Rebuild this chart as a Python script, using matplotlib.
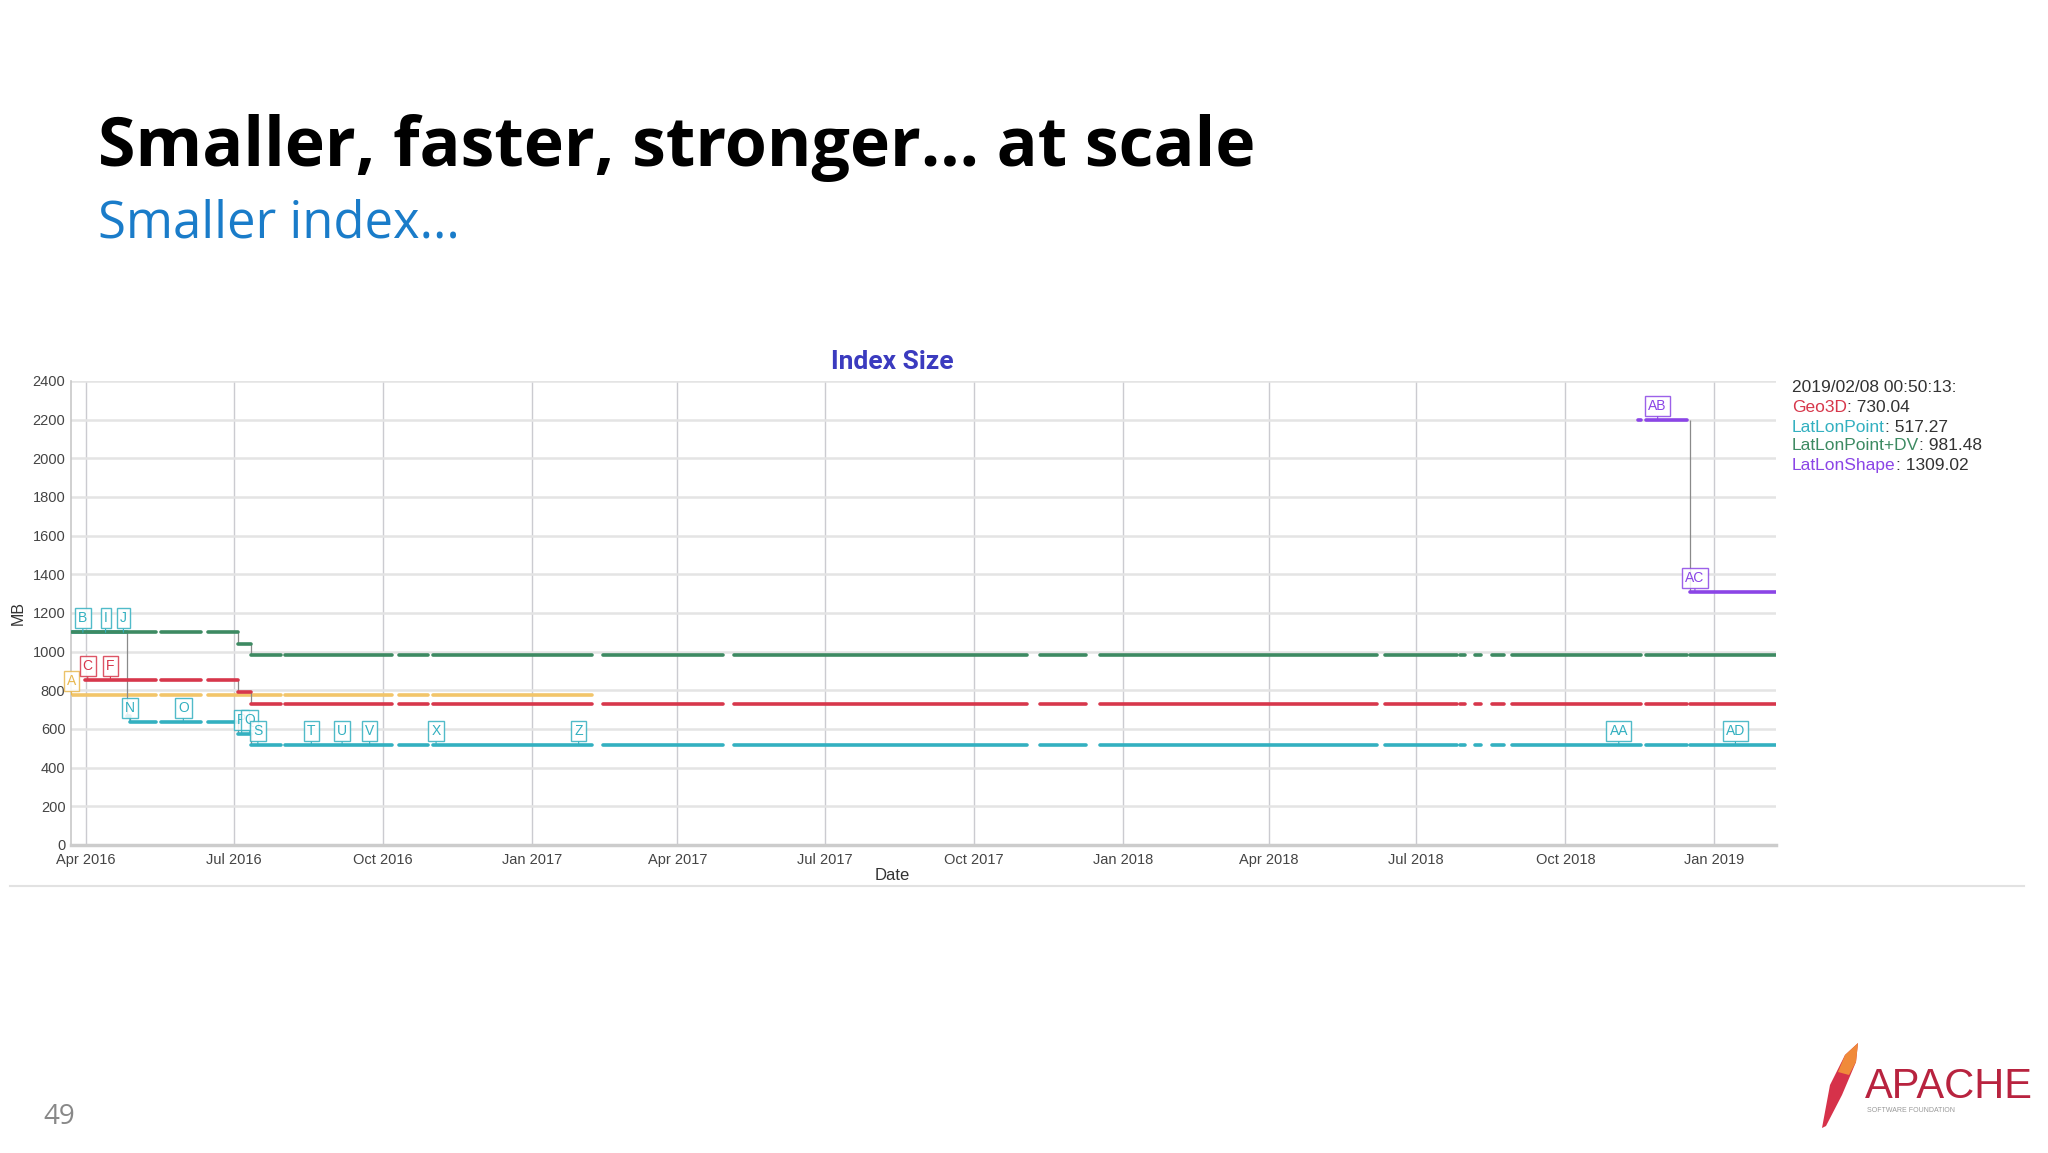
import matplotlib
matplotlib.use('Agg')
import matplotlib.pyplot as plt
import matplotlib.dates as mdates
from matplotlib.patches import Polygon
import pandas as pd

plt.rcParams['font.family'] = ['Liberation Sans', 'DejaVu Sans']

# step series: dates where the value changes, and the value from that date on
series_end = '2019-02-08 00:50:13'

geo3d_dates = ['2016-03-31', '2016-07-04', '2016-07-12']
geo3d_values = [854, 790, 730.04]

latlonpoint_dates = ['2016-03-23', '2016-04-26', '2016-04-28', '2016-07-04', '2016-07-12']
latlonpoint_values = [1100, 665, 638, 575, 517.27]

latlonpoint_dv_dates = ['2016-03-23', '2016-07-04', '2016-07-12']
latlonpoint_dv_values = [1100, 1042, 981.48]

latlonshape_dates = ['2018-11-15', '2018-12-17']
latlonshape_values = [2200, 1309.02]

# old series, stopped in Feb 2017 (not in legend)
old_dates = ['2016-03-23']
old_values = [776]
old_end = '2017-02-07'

# periods with no data (same for every series)
gap_starts = ['2016-05-14', '2016-06-11', '2016-07-30', '2016-10-07', '2016-10-29',
              '2017-02-07', '2017-04-29', '2017-11-03', '2017-12-09', '2018-06-07',
              '2018-07-26', '2018-07-31', '2018-08-10', '2018-08-24', '2018-11-17',
              '2018-12-15']
gap_ends = ['2016-05-17', '2016-06-15', '2016-08-02', '2016-10-11', '2016-11-01',
            '2017-02-14', '2017-05-06', '2017-11-11', '2017-12-18', '2018-06-12',
            '2018-07-28', '2018-08-06', '2018-08-17', '2018-08-29', '2018-11-20',
            '2018-12-17']

# annotation flags
latlonpoint_marks = ['B', 'I', 'J', 'N', 'O', 'P', 'Q', 'S', 'T', 'U', 'V', 'X', 'Z', 'AA', 'AD']
latlonpoint_mark_dates = ['2016-03-30', '2016-04-13', '2016-04-24', '2016-04-28', '2016-05-31',
                          '2016-07-06', '2016-07-11', '2016-07-16', '2016-08-18', '2016-09-06',
                          '2016-09-23', '2016-11-03', '2017-01-30', '2018-11-03', '2019-01-14']
geo3d_marks = ['C', 'F']
geo3d_mark_dates = ['2016-04-02', '2016-04-16']
old_marks = ['A']
old_mark_dates = ['2016-03-23']
latlonshape_marks = ['AB', 'AC']
latlonshape_mark_dates = ['2018-11-27', '2018-12-20']

red = '#d7374b'
teal = '#33b0c0'
green = '#3d8a62'
purple = '#8b45e6'
yellow = '#f2c56a'

gaps = list(zip(pd.to_datetime(gap_starts), pd.to_datetime(gap_ends)))


def segments(dates, values, end):
    d = list(pd.to_datetime(dates)) + [pd.to_datetime(end)]
    out = []
    for i, v in enumerate(values):
        pieces = [(d[i], d[i + 1])]
        for g0, g1 in gaps:
            new = []
            for a, b in pieces:
                if g1 <= a or g0 >= b:
                    new.append((a, b))
                else:
                    if a < g0:
                        new.append((a, g0))
                    if g1 < b:
                        new.append((g1, b))
            pieces = new
        for a, b in pieces:
            out.append((a, b, v))
    return out


def value_at(dates, values, when):
    d = pd.to_datetime(dates)
    t = pd.to_datetime(when)
    v = values[0]
    for di, vi in zip(d, values):
        if di <= t:
            v = vi
    return v


def draw_series(ax, dates, values, end, color, z):
    d = pd.to_datetime(dates)
    for i in range(1, len(values)):
        ax.vlines(d[i], values[i], values[i - 1], color='#8a8a8a', lw=0.9, zorder=z - 0.5)
    for a, b, v in segments(dates, values, end):
        ax.hlines(v, a, b, color=color, lw=2.6, zorder=z, capstyle='round')


def draw_marks(ax, marks, mdates_, dates, values, color):
    for m, md in zip(marks, mdates_):
        v = value_at(dates, values, md)
        ax.annotate(m, xy=(pd.to_datetime(md), v), xytext=(0, 10), textcoords='offset points',
                    ha='center', va='center', fontsize=10, color=color, zorder=6,
                    bbox=dict(boxstyle='square,pad=0.22', fc='white', ec=color, lw=1, alpha=0.85),
                    arrowprops=dict(arrowstyle='-', color=color, lw=0.8, shrinkA=0, shrinkB=0))


fig = plt.figure(figsize=(20.48, 11.53), dpi=100)
W, H = 2048, 1153

# slide texts
fig.text(98 / W, 1 - 166 / H, 'Smaller, faster, stronger... at scale', fontsize=49,
         fontweight='bold', family=['Open Sans', 'DejaVu Sans'], color='black', va='baseline')
fig.text(98 / W, 1 - 238 / H, 'Smaller index...', fontsize=36.5,
         family=['Open Sans', 'DejaVu Sans'], color='#1a7cc9', va='baseline')

ax = fig.add_axes([71 / W, 1 - 845 / H, (1776 - 71) / W, (845 - 381) / H])

draw_series(ax, old_dates, old_values, old_end, yellow, 2)
draw_series(ax, latlonpoint_dates, latlonpoint_values, series_end, teal, 3)
draw_series(ax, latlonpoint_dv_dates, latlonpoint_dv_values, series_end, green, 4)
draw_series(ax, geo3d_dates, geo3d_values, series_end, red, 3.5)
draw_series(ax, latlonshape_dates, latlonshape_values, series_end, purple, 3)

draw_marks(ax, old_marks, old_mark_dates, old_dates, old_values, '#e8b850')
draw_marks(ax, geo3d_marks, geo3d_mark_dates, geo3d_dates, geo3d_values, red)
draw_marks(ax, latlonpoint_marks, latlonpoint_mark_dates, latlonpoint_dates, latlonpoint_values, teal)
draw_marks(ax, latlonshape_marks, latlonshape_mark_dates, latlonshape_dates, latlonshape_values, purple)

ax.set_xlim(pd.Timestamp('2016-03-22 16:00'), pd.Timestamp(series_end))
ax.set_ylim(0, 2400)
ax.set_yticks(range(0, 2401, 200))
ax.xaxis.set_major_locator(mdates.MonthLocator(bymonth=[1, 4, 7, 10]))
ax.xaxis.set_major_formatter(mdates.DateFormatter('%b %Y'))
ax.tick_params(axis='both', length=0, labelsize=10.5, labelcolor='#444444')
ax.tick_params(axis='y', pad=4)
ax.tick_params(axis='x', pad=6)

ax.grid(axis='y', color='#e4e4e4', lw=1.8)
ax.grid(axis='x', color='#cbcbd0', lw=1.0)
ax.set_axisbelow(True)
for s in ['top', 'right']:
    ax.spines[s].set_visible(False)
ax.spines['left'].set_color('#c8c8c8')
ax.spines['left'].set_linewidth(1.2)
ax.spines['bottom'].set_color('#cccccc')
ax.spines['bottom'].set_linewidth(2.5)

fig.text(892 / W, 1 - 362 / H, 'Index Size', fontsize=19, fontweight='bold',
         color='#3b3bbf', ha='center', va='center', family=['Roboto', 'DejaVu Sans'])
fig.text(18 / W, 1 - 613 / H, 'MB', fontsize=11.5, rotation=90, ha='center', va='center', color='#333333')
fig.text(892 / W, 1 - 875 / H, 'Date', fontsize=12, ha='center', va='center', color='#333333')

# value legend at the right
fig.text(1792 / W, 1 - 388 / H, '2019/02/08 00:50:13:', fontsize=12.5, color='#333333', va='center')
legend_names = ['Geo3D', 'LatLonPoint', 'LatLonPoint+DV', 'LatLonShape']
legend_values = ['730.04', '517.27', '981.48', '1309.02']
legend_colors = [red, teal, green, purple]
legend_y = [407.5, 427, 446, 465]
for name, val, col, yy in zip(legend_names, legend_values, legend_colors, legend_y):
    t = fig.text(1792 / W, 1 - yy / H, name, fontsize=12.5, color=col, va='center')
    fig.add_artist(matplotlib.text.Annotation(': ' + val, xy=(1, 0), xycoords=t, va='bottom',
                                              ha='left', fontsize=12.5, color='#333333'))

# slide decorations
fig.add_artist(plt.Line2D([10 / W, 2024 / W], [1 - 885.5 / H, 1 - 885.5 / H],
                          color='#e2e2e2', lw=1.5, transform=fig.transFigure))
fig.text(59 / W, 1 - 1117 / H, '49', fontsize=20, color='#888888', ha='center', va='center',
         family=['Open Sans', 'DejaVu Sans'])

feather = [(1822, 1128), (1830, 1085), (1845, 1055), (1858, 1043), (1856, 1062), (1842, 1095), (1826, 1126)]
fig.add_artist(Polygon([(x / W, 1 - y / H) for x, y in feather], closed=True, fc='#d6324a',
                       ec='none', transform=fig.transFigure))
feather_top = [(1845, 1055), (1858, 1043), (1856, 1062), (1849, 1075), (1838, 1072)]
fig.add_artist(Polygon([(x / W, 1 - y / H) for x, y in feather_top], closed=True, fc='#f08a3a',
                       ec='none', transform=fig.transFigure))
fig.text(1865 / W, 1 - 1087 / H, 'APACHE', fontsize=30, color='#b8233f', ha='left', va='center')
fig.text(1867 / W, 1 - 1111 / H, 'SOFTWARE FOUNDATION', fontsize=5, color='#999999',
         ha='left', va='center')

fig.savefig('out.png', dpi=100, facecolor='white')
